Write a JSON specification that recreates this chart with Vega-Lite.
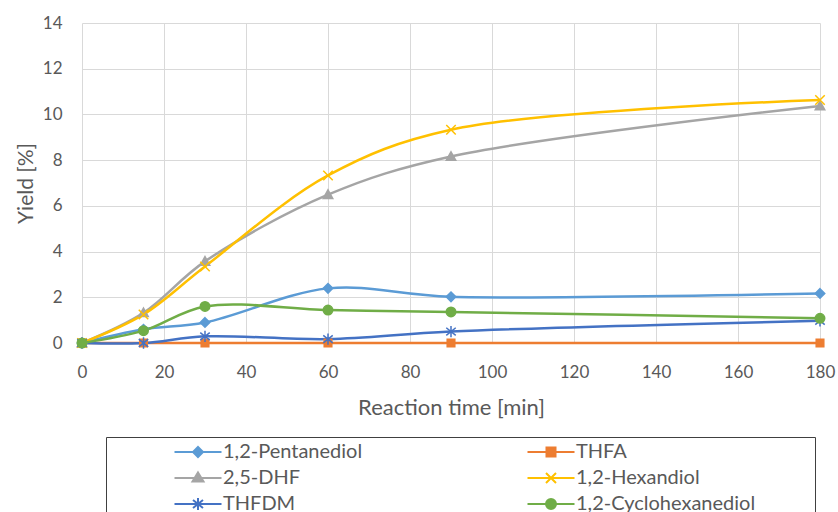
{
  "$schema": "https://vega.github.io/schema/vega-lite/v6.json",
  "autosize": {"type": "none"},
  "padding": {"left": 82, "top": 23, "right": 18, "bottom": 169},
  "width": 738,
  "height": 320,
  "background": "white",
  "data": {
    "values": [
      {"series": "1,2-Pentanediol", "time": 0, "yield": 0},
      {"series": "1,2-Pentanediol", "time": 15, "yield": 0.6},
      {"series": "1,2-Pentanediol", "time": 30, "yield": 0.9},
      {"series": "1,2-Pentanediol", "time": 60, "yield": 2.39},
      {"series": "1,2-Pentanediol", "time": 90, "yield": 2.02},
      {"series": "1,2-Pentanediol", "time": 180, "yield": 2.17},
      {"series": "THFA", "time": 0, "yield": 0},
      {"series": "THFA", "time": 15, "yield": 0},
      {"series": "THFA", "time": 30, "yield": 0},
      {"series": "THFA", "time": 60, "yield": 0},
      {"series": "THFA", "time": 90, "yield": 0},
      {"series": "THFA", "time": 180, "yield": 0},
      {"series": "2,5-DHF", "time": 0, "yield": 0},
      {"series": "2,5-DHF", "time": 15, "yield": 1.32},
      {"series": "2,5-DHF", "time": 30, "yield": 3.57},
      {"series": "2,5-DHF", "time": 60, "yield": 6.49},
      {"series": "2,5-DHF", "time": 90, "yield": 8.16},
      {"series": "2,5-DHF", "time": 180, "yield": 10.37},
      {"series": "1,2-Hexandiol", "time": 0, "yield": 0},
      {"series": "1,2-Hexandiol", "time": 15, "yield": 1.25},
      {"series": "1,2-Hexandiol", "time": 30, "yield": 3.35},
      {"series": "1,2-Hexandiol", "time": 60, "yield": 7.33},
      {"series": "1,2-Hexandiol", "time": 90, "yield": 9.33},
      {"series": "1,2-Hexandiol", "time": 180, "yield": 10.63},
      {"series": "THFDM", "time": 0, "yield": 0},
      {"series": "THFDM", "time": 15, "yield": 0},
      {"series": "THFDM", "time": 30, "yield": 0.29},
      {"series": "THFDM", "time": 60, "yield": 0.17},
      {"series": "THFDM", "time": 90, "yield": 0.5},
      {"series": "THFDM", "time": 180, "yield": 0.97},
      {"series": "1,2-Cyclohexanediol", "time": 0, "yield": 0},
      {"series": "1,2-Cyclohexanediol", "time": 15, "yield": 0.54},
      {"series": "1,2-Cyclohexanediol", "time": 30, "yield": 1.6},
      {"series": "1,2-Cyclohexanediol", "time": 60, "yield": 1.44},
      {"series": "1,2-Cyclohexanediol", "time": 90, "yield": 1.36},
      {"series": "1,2-Cyclohexanediol", "time": 180, "yield": 1.08}
    ]
  },
  "encoding": {
    "x": {
      "field": "time", "type": "quantitative",
      "scale": {"domain": [0, 180], "nice": false, "zero": false},
      "axis": {"title": "Reaction time [min]", "values": [0, 20, 40, 60, 80, 100, 120, 140, 160, 180], "labelPadding": 21, "titlePadding": 17, "titleFontSize": 22, "labelFlush": false}
    },
    "y": {
      "field": "yield", "type": "quantitative",
      "scale": {"domain": [0, 14], "nice": false},
      "axis": {"title": "Yield [%]", "values": [0, 2, 4, 6, 8, 10, 12, 14], "labelPadding": 20, "titlePadding": 6, "labelFlush": false}
    }
  },
  "layer": [
    {
      "mark": {"type": "line", "interpolate": "catmull-rom", "strokeWidth": 2.5},
      "encoding": {
        "color": {
          "field": "series", "type": "nominal",
          "scale": {
            "domain": ["1,2-Pentanediol", "THFA", "2,5-DHF", "1,2-Hexandiol", "THFDM", "1,2-Cyclohexanediol"],
            "range": ["#5B9BD5", "#ED7D31", "#A5A5A5", "#FFC000", "#4472C4", "#70AD47"]
          },
          "legend": null
        }
      }
    },
    {
      "mark": {"type": "point", "filled": true, "size": 90, "strokeWidth": 1.5, "opacity": 1},
      "encoding": {
        "color": {
          "field": "series", "type": "nominal",
          "scale": {
            "domain": ["1,2-Pentanediol", "THFA", "2,5-DHF", "1,2-Hexandiol", "THFDM", "1,2-Cyclohexanediol"],
            "range": ["#5B9BD5", "#ED7D31", "#A5A5A5", "#FFC000", "#4472C4", "#70AD47"]
          },
          "legend": null
        },
        "stroke": {
          "field": "series", "type": "nominal",
          "scale": {
            "domain": ["1,2-Pentanediol", "THFA", "2,5-DHF", "1,2-Hexandiol", "THFDM", "1,2-Cyclohexanediol"],
            "range": ["#5B9BD5", "#ED7D31", "#A5A5A5", "#FFC000", "#4472C4", "#70AD47"]
          },
          "legend": null
        },
        "shape": {
          "field": "series", "type": "nominal",
          "scale": {
            "domain": ["1,2-Pentanediol", "THFA", "2,5-DHF", "1,2-Hexandiol", "THFDM", "1,2-Cyclohexanediol"],
            "range": [
              "M0,-1L1,0L0,1L-1,0Z",
              "M-0.8,-0.8H0.8V0.8H-0.8Z",
              "M0,-1L1,0.8H-1Z",
              "M-1,-1L1,1M-1,1L1,-1",
              "M-1,-0.8L1,0.8M-1,0.8L1,-0.8M0,-1.2V1.2",
              "circle"
            ]
          },
          "legend": null
        }
      }
    },
    {
      "transform": [{"filter": "datum.time < 0"}],
      "mark": {"type": "point", "filled": true, "strokeWidth": 2, "opacity": 1},
      "encoding": {
        "color": {
          "field": "series", "type": "nominal",
          "scale": {
            "domain": ["1,2-Pentanediol", "THFA", "2,5-DHF", "1,2-Hexandiol", "THFDM", "1,2-Cyclohexanediol"],
            "range": ["#5B9BD5", "#ED7D31", "#A5A5A5", "#FFC000", "#4472C4", "#70AD47"]
          },
          "legend": {
            "title": null, "orient": "none", "legendX": 24, "legendY": 414,
            "direction": "horizontal", "columns": 2, "columnPadding": 101, "rowPadding": 6,
            "padding": 5, "strokeColor": "#404040", "fillColor": "white", "cornerRadius": 0,
            "symbolSize": 100, "symbolOffset": 77, "labelOffset": 15, "labelLimit": 0, "symbolStrokeWidth": 2, "symbolOpacity": 1,
            "labelFontSize": 20, "labelFont": "Lato", "labelColor": "#595959"
          }
        },
        "stroke": {
          "field": "series", "type": "nominal",
          "scale": {
            "domain": ["1,2-Pentanediol", "THFA", "2,5-DHF", "1,2-Hexandiol", "THFDM", "1,2-Cyclohexanediol"],
            "range": ["#5B9BD5", "#ED7D31", "#A5A5A5", "#FFC000", "#4472C4", "#70AD47"]
          },
          "legend": {
            "title": null, "orient": "none", "legendX": 24, "legendY": 414,
            "direction": "horizontal", "columns": 2, "columnPadding": 101, "rowPadding": 6,
            "padding": 5, "strokeColor": "#404040", "fillColor": "white", "cornerRadius": 0,
            "symbolSize": 100, "symbolOffset": 77, "labelOffset": 15, "labelLimit": 0, "symbolStrokeWidth": 2, "symbolOpacity": 1,
            "labelFontSize": 20, "labelFont": "Lato", "labelColor": "#595959"
          }
        },
        "shape": {
          "field": "series", "type": "nominal",
          "scale": {
            "domain": ["1,2-Pentanediol", "THFA", "2,5-DHF", "1,2-Hexandiol", "THFDM", "1,2-Cyclohexanediol"],
            "range": [
              "M-16.6,0M-4.7,0H4.7M0,-1L1,0L0,1L-1,0Z",
              "M-16.6,0M51,0M-4.7,0H4.7M-0.9,-0.9H0.9V0.9H-0.9Z",
              "M-16.6,0M-4.7,0H4.7M0,-1.1L1.1,0.7H-1.1Z",
              "M-16.6,0M51,0M-4.7,0H4.7M-1,-1L1,1M-1,1L1,-1",
              "M-16.6,0M-4.7,0H4.7M-1,-0.8L1,0.8M-1,0.8L1,-0.8M0,-1.2V1.2",
              "M-16.6,0M51,0M-4.7,0H4.7M-1,0A1,1,0,1,0,1,0A1,1,0,1,0,-1,0Z"
            ]
          },
          "legend": {
            "title": null, "orient": "none", "legendX": 24, "legendY": 414,
            "direction": "horizontal", "columns": 2, "columnPadding": 101, "rowPadding": 6,
            "padding": 5, "strokeColor": "#404040", "fillColor": "white", "cornerRadius": 0,
            "symbolSize": 100, "symbolOffset": 77, "labelOffset": 15, "labelLimit": 0, "symbolStrokeWidth": 2, "symbolOpacity": 1,
            "labelFontSize": 20, "labelFont": "Lato", "labelColor": "#595959"
          }
        }
      }
    }
  ],
  "resolve": {"scale": {"shape": "independent", "color": "independent", "stroke": "independent"}},
  "config": {
    "view": {"stroke": null},
    "font": "Lato",
    "axis": {
      "grid": true,
      "gridColor": "#d9d9d9",
      "gridWidth": 1,
      "domain": false,
      "ticks": false,
      "tickSize": 0,
      "labelFont": "Lato",
      "labelFontSize": 17,
      "labelColor": "#595959",
      "titleFont": "Lato",
      "titleFontSize": 21,
      "titleFontWeight": "normal",
      "titleColor": "#595959"
    }
  }
}
